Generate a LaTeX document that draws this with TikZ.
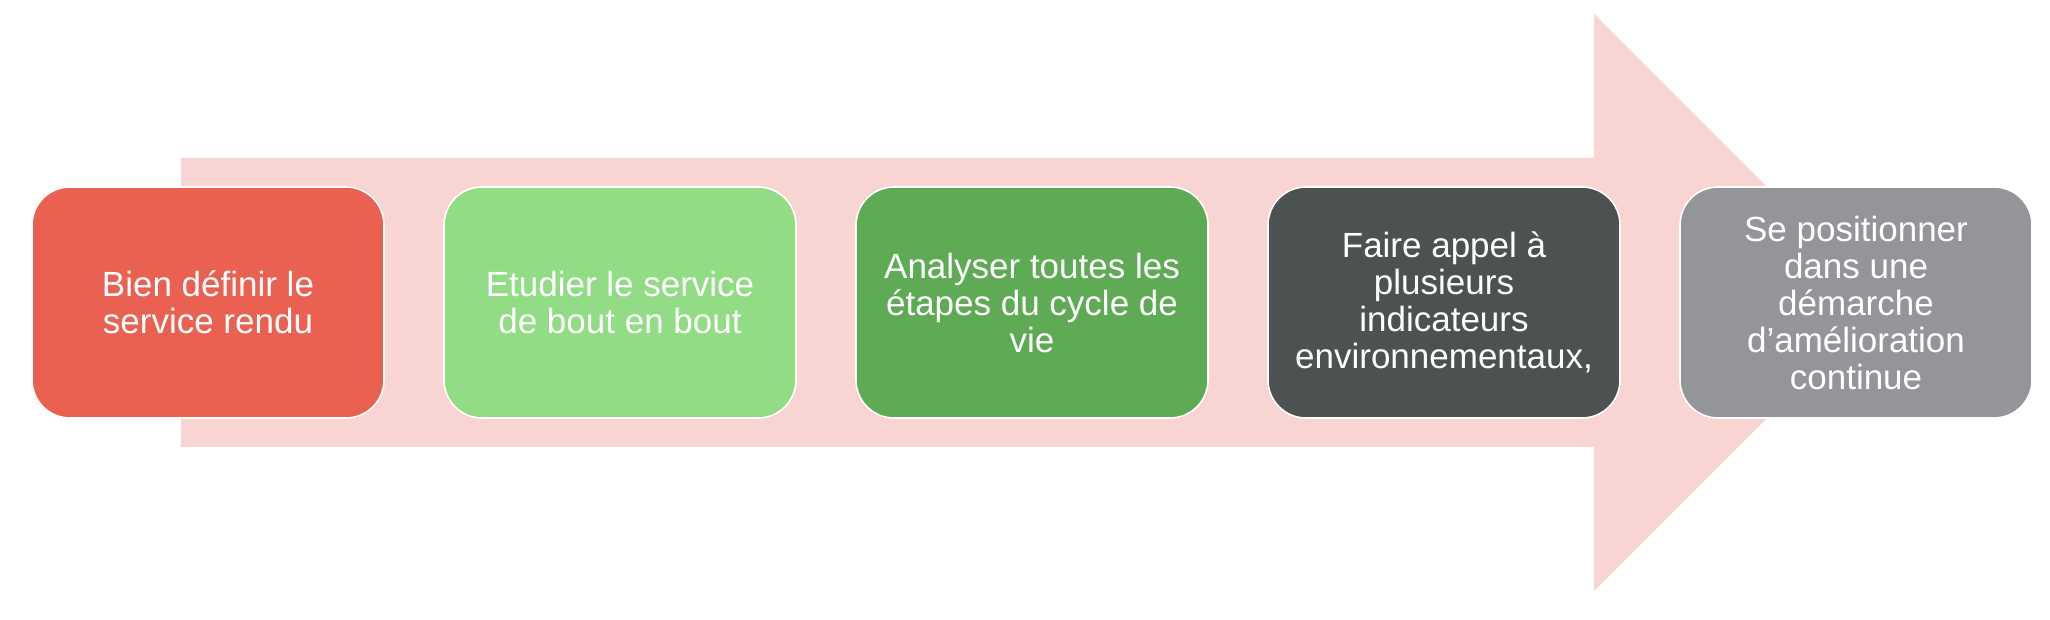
\documentclass[tikz,border=0pt]{standalone}
\usepackage{fontspec}
\setmainfont{Liberation Sans}
\usetikzlibrary{positioning}
\definecolor{fleche}{HTML}{F8D4D2}
\definecolor{rouge}{HTML}{EA6152}
\definecolor{vertclair}{HTML}{92DC86}
\definecolor{vert}{HTML}{5FAA55}
\definecolor{grisfonce}{HTML}{4D5152}
\definecolor{gris}{HTML}{939599}
\tikzset{etape/.style={draw=white,line width=0.8pt,rounded corners=19pt,
  minimum width=176pt,minimum height=115.5pt,inner sep=0pt,
  text=white,align=center,font=\fontsize{17.5}{18.5}\selectfont}}
\begin{document}
\begin{tikzpicture}[x=0.5pt,y=0.5pt,node distance=29.2pt]
 \useasboundingbox (0,0) rectangle (2050,620);
 \fill[fleche](181,173)--(1594,173)--(1594,29)--(1882.5,317.5)--(1594,606)--(1594,462)--(181,462)--cycle;
 \node[etape,fill=rouge] (definir) at (208,317.5) {Bien définir le\\service rendu};
 \node[etape,fill=vertclair,right=of definir] (etudier) {Etudier le service\\de bout en bout};
 \node[etape,fill=vert,right=of etudier] (analyser) {Analyser toutes les\\étapes du cycle de\\vie};
 \node[etape,fill=grisfonce,right=of analyser] (indicateurs) {Faire appel à\\plusieurs\\indicateurs\\environnementaux,};
 \node[etape,fill=gris,right=of indicateurs] (amelioration) {Se positionner\\dans une\\démarche\\d’amélioration\\continue};
\end{tikzpicture}
\end{document}
